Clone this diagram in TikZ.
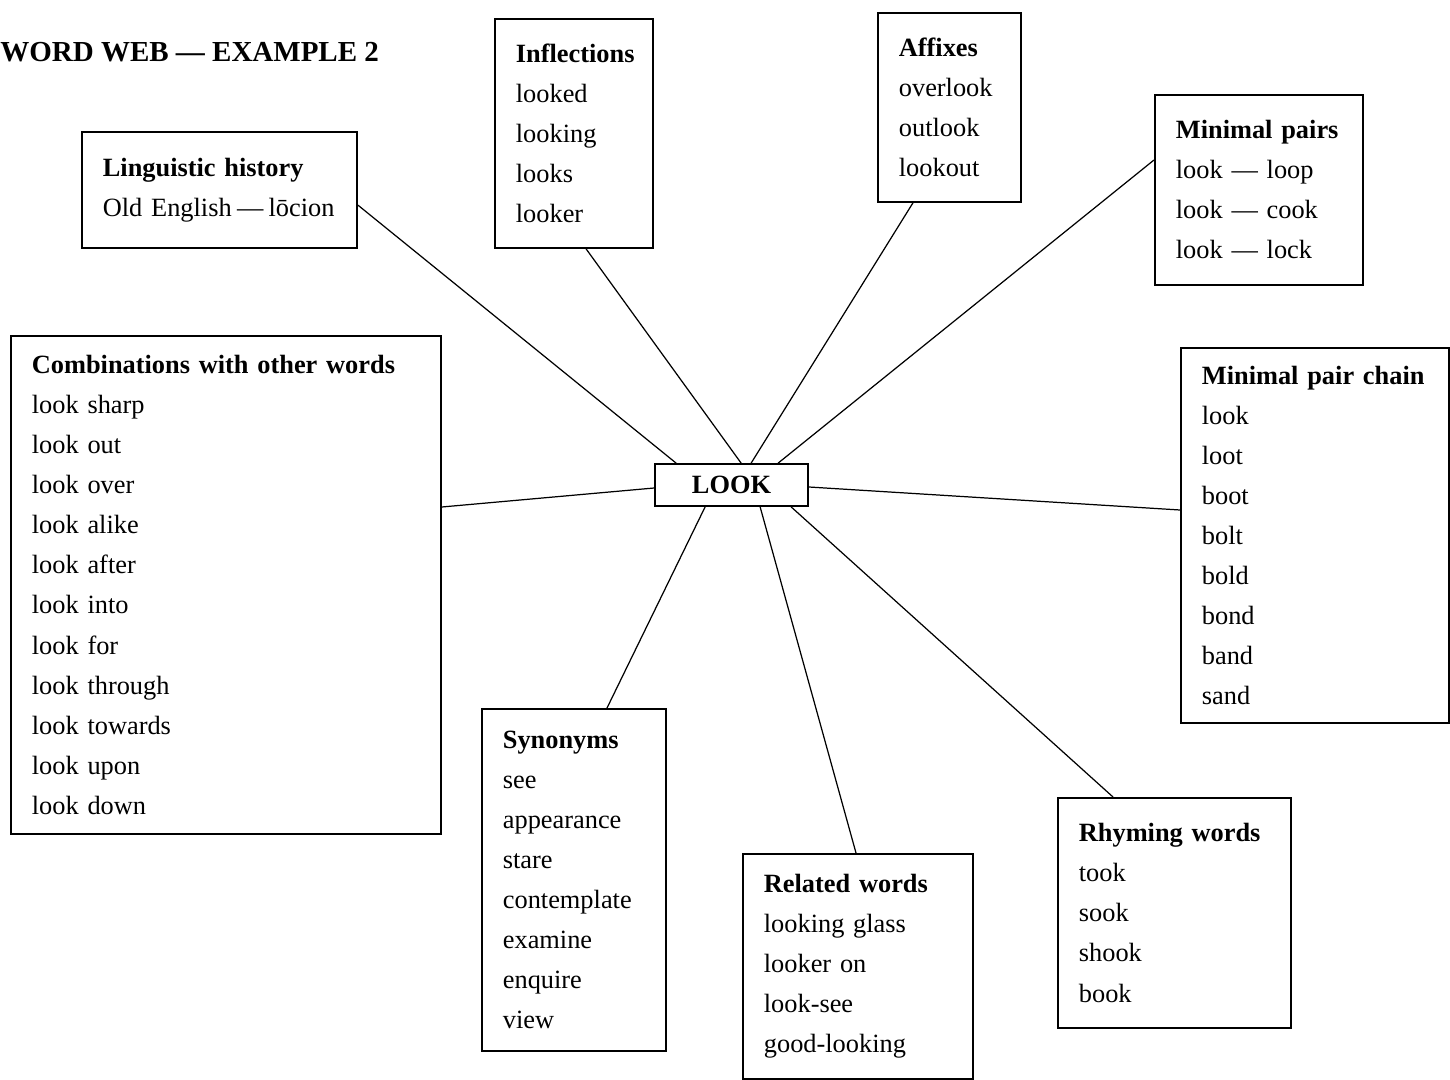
\documentclass[tikz,border=0pt]{standalone}
\usepackage{fontspec}
\setmainfont{Liberation Serif}
\usetikzlibrary{calc}

\begin{document}
\begin{tikzpicture}[x=0.2mm,y=-0.2mm,
  webfont/.style={font=\fontsize{15}{22.8}\selectfont},
  webbox/.style={draw,line width=1pt,webfont,anchor=north west,align=left,inner xsep=4.2mm,inner ysep=1mm},
  link/.style={line width=0.7pt}]
\useasboundingbox (0,0) rectangle (1450,1080);

\node[anchor=west,inner sep=0pt,font=\fontsize{16.5}{20}\selectfont\bfseries] (title) at (0,52) {WORD WEB — EXAMPLE 2};

\node[draw,line width=1pt,webfont,minimum width=30.6mm,minimum height=8.4mm] (look) at (731.5,485) {\textbf{LOOK}};

\node[webbox,text width=46.6mm,minimum height=23.2mm] (history) at (81,131) {\textbf{Linguistic history}\\
\mbox{Old English\hspace{3pt}—\hspace{3pt}l\=ocion}};

\node[webbox,text width=23.2mm,minimum height=45.8mm] (inflect) at (494,18) {\textbf{Inflections}\\
looked\\ looking\\ looks\\ looker};

\node[webbox,text width=20.2mm,minimum height=37.8mm] (affix) at (877,12) {\textbf{Affixes}\\
overlook\\ outlook\\ lookout};

\node[webbox,text width=33.2mm,minimum height=38mm] (pairs) at (1154,94) {\textbf{Minimal pairs}\\
look — loop\\ look — cook\\ look — lock};

\node[webbox,text width=77.6mm,minimum height=99.6mm] (combine) at (10,335) {\textbf{Combinations with other words}\\
look sharp\\ look out\\ look over\\ look alike\\ look after\\ look into\\ look for\\ look through\\ look towards\\ look upon\\ look down};

\node[webbox,text width=45.2mm,minimum height=75mm] (chain) at (1180,347) {\textbf{Minimal pair chain}\\
look\\ loot\\ boot\\ bolt\\ bold\\ bond\\ band\\ sand};

\node[webbox,text width=28.4mm,minimum height=68.4mm] (synonym) at (481,708) {\textbf{Synonyms}\\
see\\ appearance\\ stare\\ contemplate\\ examine\\ enquire\\ view};

\node[webbox,text width=37.6mm,minimum height=45mm] (related) at (742,853) {\textbf{Related words}\\
looking glass\\ looker on\\ look-see\\ good-looking};

\node[webbox,text width=38.2mm,minimum height=46mm] (rhyme) at (1057,797) {\textbf{Rhyming words}\\
took\\ sook\\ shook\\ book};

\draw[link] ($(history.north east)+(0,74)$) -- ($(look.north west)+(22,0)$);
\draw[link] ($(inflect.south west)+(92,0)$) -- ($(look.north west)+(87,0)$);
\draw[link] ($(affix.south west)+(36,0)$) -- ($(look.north west)+(97,0)$);
\draw[link] ($(pairs.north west)+(0,66)$) -- ($(look.north west)+(124,0)$);
\draw[link] ($(combine.north east)+(0,172)$) -- ($(look.west)+(0,3)$);
\draw[link] ($(chain.north west)+(0,163)$) -- ($(look.east)+(0,2)$);
\draw[link] ($(synonym.north west)+(126,0)$) -- ($(look.south west)+(51,0)$);
\draw[link] ($(related.north west)+(114,0)$) -- ($(look.south west)+(106,0)$);
\draw[link] ($(rhyme.north west)+(56,0)$) -- ($(look.south west)+(137,0)$);
\end{tikzpicture}
\end{document}
